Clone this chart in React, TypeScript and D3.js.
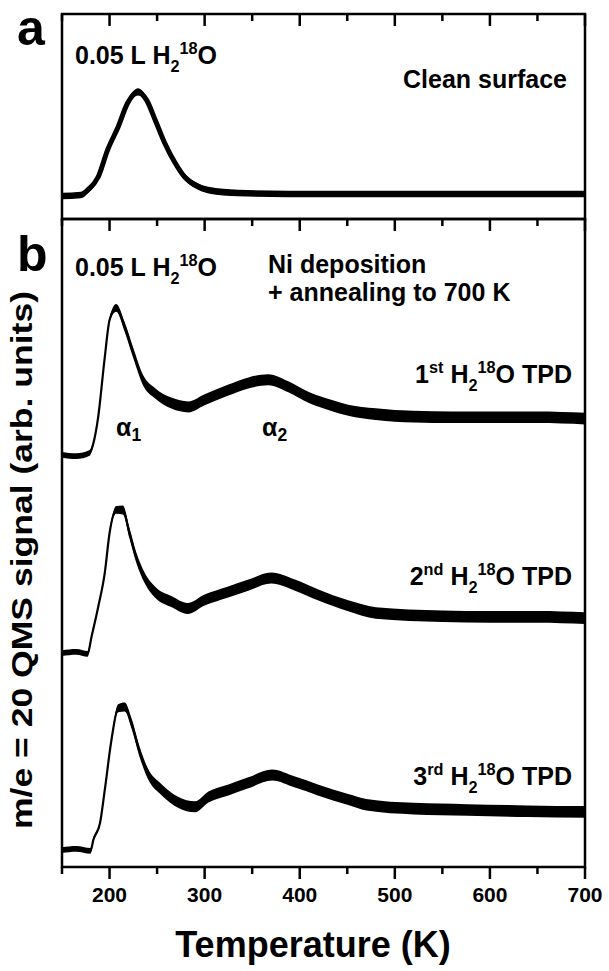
import React from "react";
import * as d3 from "d3";

// ---- Data ----
const X_DOMAIN = [150, 700];
const MAJOR_TICKS = [200, 300, 400, 500, 600, 700];
const MINOR_TICKS = [150, 250, 350, 450, 550, 650];

// Panel a: clean surface
const TEMP_A = [150, 170, 177, 188, 198, 209, 219, 230, 239, 248, 258, 269, 279, 290, 304, 335, 388, 450, 550, 650, 700];
const SIGNAL_A = [11.2, 11.7, 14.1, 20.5, 33.7, 44.9, 56.6, 62.0, 58.0, 48.3, 37.1, 27.3, 20.5, 16.6, 14.1, 12.7, 12.2, 12.2, 12.2, 12.2, 12.2];
const NOISE_A = [1.6, 1.6, 1.6, 1.6, 1.6, 1.6, 1.6, 1.8, 1.6, 1.6, 1.6, 1.6, 1.6, 1.6, 1.6, 1.6, 1.6, 1.6, 1.6, 1.6, 1.6];

// Panel b: 1st TPD
const TEMP_1 = [150, 165, 179, 183, 188, 195, 200, 207, 216, 225, 235, 248, 265, 283, 300, 325, 346, 367, 388, 409, 434, 451, 480, 520, 560, 600, 650, 700];
const SIGNAL_1 = [63.6, 63.4, 63.9, 65.4, 69.4, 78.7, 84.4, 86.3, 83.3, 79.3, 75.2, 73.1, 71.6, 71.0, 72.1, 73.6, 74.7, 75.2, 74.1, 72.5, 71.2, 70.5, 69.9, 69.5, 69.4, 69.4, 69.4, 69.2];
const NOISE_1 = [0.45, 0.45, 0.45, 0.35, 0.25, 0.25, 0.35, 0.6, 0.75, 0.8, 0.8, 0.8, 0.85, 0.85, 0.85, 0.85, 0.85, 0.85, 0.85, 0.85, 0.85, 0.85, 0.9, 0.9, 0.9, 0.9, 0.9, 0.9];

// Panel b: 2nd TPD
const TEMP_2 = [150, 165, 177, 181, 188, 195, 200, 207, 214, 221, 228, 237, 248, 266, 282, 300, 324, 346, 370, 395, 419, 451, 480, 550, 600, 650, 700];
const SIGNAL_2 = [33.0, 33.2, 32.9, 35.5, 40.1, 45.4, 51.5, 55.1, 55.1, 51.5, 47.8, 44.6, 42.4, 40.9, 39.9, 41.2, 42.4, 43.5, 44.6, 43.5, 42.0, 40.3, 39.2, 38.7, 38.6, 38.6, 38.4];
const NOISE_2 = [0.45, 0.45, 0.45, 0.35, 0.25, 0.25, 0.35, 0.6, 0.7, 0.8, 0.8, 0.8, 0.85, 0.85, 0.85, 0.85, 0.85, 0.85, 0.85, 0.85, 0.85, 0.85, 0.9, 0.9, 0.9, 0.9, 0.9];

// Panel b: 3rd TPD
const TEMP_3 = [150, 165, 180, 183, 190, 195, 202, 209, 216, 223, 232, 240, 255, 272, 290, 304, 325, 346, 371, 395, 419, 451, 470, 520, 576, 640, 700];
const SIGNAL_3 = [2.6, 2.8, 2.5, 4.2, 6.8, 11.9, 19.6, 24.5, 24.7, 22.2, 17.6, 14.5, 11.9, 10.0, 9.3, 10.8, 11.9, 13.0, 14.2, 13.1, 11.9, 10.4, 9.6, 9.0, 8.8, 8.6, 8.5];
const NOISE_3 = [0.45, 0.45, 0.45, 0.35, 0.25, 0.25, 0.35, 0.6, 0.7, 0.8, 0.8, 0.8, 0.85, 0.85, 0.85, 0.85, 0.85, 0.85, 0.85, 0.85, 0.85, 0.85, 0.9, 0.9, 0.9, 0.9, 0.9];

const Y_DOMAIN = [0, 100];

// ---- Layout ----
const W = 609;
const H = 971;
const LEFT = 62;
const RIGHT = 585;
const TOP_A = 14;
const MID = 219;
const BOTTOM = 867;
const FONT = "'Liberation Sans', Arial, Helvetica, sans-serif";

type Pt = { t: number; v: number; n: number };
const zip = (t: number[], v: number[], n: number[]): Pt[] => t.map((tt, i) => ({ t: tt, v: v[i], n: n[i] }));

function Trace({ data, x, y, sw }: { data: Pt[]; x: any; y: any; sw: number }) {
  const area = d3
    .area<Pt>()
    .x((d) => x(d.t))
    .y0((d) => y(d.v - d.n))
    .y1((d) => y(d.v + d.n))
    .curve(d3.curveMonotoneX);
  const line = d3
    .line<Pt>()
    .x((d) => x(d.t))
    .y((d) => y(d.v))
    .curve(d3.curveMonotoneX);
  return (
    <g>
      <path d={area(data) || ""} fill="#000" stroke="none" />
      <path d={line(data) || ""} fill="none" stroke="#000" strokeWidth={sw} strokeLinejoin="round" />
    </g>
  );
}

function Species({ x, y, anchor = "start", prefix, sup, size }: any) {
  const s = size * 0.65;
  return (
    <text x={x} y={y} fontFamily={FONT} fontWeight="bold" fontSize={size} textAnchor={anchor} fill="#000">
      {prefix}
      {sup ? (
        <tspan fontSize={s} dy={-size * 0.4}>
          {sup}
        </tspan>
      ) : null}
      <tspan dy={sup ? size * 0.4 : 0}>{sup ? " H" : "H"}</tspan>
      <tspan fontSize={s} dy={size * 0.3}>
        2
      </tspan>
      <tspan fontSize={s} dy={-size * 0.7}>
        18
      </tspan>
      <tspan dy={size * 0.4}>O{sup ? " TPD" : ""}</tspan>
    </text>
  );
}

export default function App() {
  const x = d3.scaleLinear().domain(X_DOMAIN).range([LEFT, RIGHT]);
  const yA = d3.scaleLinear().domain(Y_DOMAIN).range([MID, TOP_A]);
  const yB = d3.scaleLinear().domain(Y_DOMAIN).range([BOTTOM, MID]);

  const dA = zip(TEMP_A, SIGNAL_A, NOISE_A);
  const d1 = zip(TEMP_1, SIGNAL_1, NOISE_1);
  const d2 = zip(TEMP_2, SIGNAL_2, NOISE_2);
  const d3_ = zip(TEMP_3, SIGNAL_3, NOISE_3);

  const fs = 25;
  const MAJ = 12;
  const MIN = 7;

  return (
    <svg width={W} height={H} style={{ position: "absolute", left: 0, top: 0, background: "#fff" }}>
      <defs>
        <clipPath id="clipA">
          <rect x={LEFT} y={TOP_A} width={RIGHT - LEFT} height={MID - TOP_A} />
        </clipPath>
        <clipPath id="clipB">
          <rect x={LEFT} y={MID} width={RIGHT - LEFT} height={BOTTOM - MID} />
        </clipPath>
      </defs>

      {/* traces */}
      <g clipPath="url(#clipA)">
        <Trace data={dA} x={x} y={yA} sw={5} />
      </g>
      <g clipPath="url(#clipB)">
        <Trace data={d1} x={x} y={yB} sw={2.2} />
        <Trace data={d2} x={x} y={yB} sw={2.2} />
        <Trace data={d3_} x={x} y={yB} sw={2.2} />
      </g>

      {/* ticks: panel a top (inward), panel b top (inward), panel b bottom (outward) */}
      <g stroke="#000" strokeWidth={2.5}>
        {MAJOR_TICKS.concat(MINOR_TICKS).map((t) => {
          const len = MAJOR_TICKS.includes(t) ? MAJ : MIN;
          const px = x(t);
          return (
            <g key={t}>
              <line x1={px} x2={px} y1={TOP_A} y2={TOP_A + len} />
              <line x1={px} x2={px} y1={MID} y2={MID + len} />
              <line x1={px} x2={px} y1={BOTTOM} y2={BOTTOM + len} />
            </g>
          );
        })}
      </g>

      {/* frames */}
      <rect x={LEFT} y={TOP_A} width={RIGHT - LEFT} height={MID - TOP_A} fill="none" stroke="#000" strokeWidth={2.5} />
      <rect x={LEFT} y={MID} width={RIGHT - LEFT} height={BOTTOM - MID} fill="none" stroke="#000" strokeWidth={2.5} />

      {/* tick labels */}
      {MAJOR_TICKS.map((t) => (
        <text key={t} x={x(t)} y={902} textAnchor="middle" fontFamily={FONT} fontWeight="bold" fontSize={21} fill="#000">
          {t}
        </text>
      ))}

      {/* axis titles */}
      <text x={313} y={957} textAnchor="middle" fontFamily={FONT} fontWeight="bold" fontSize={36} fill="#000">
        Temperature (K)
      </text>
      <text
        transform={`translate(32, 560) rotate(-90)`}
        textAnchor="middle"
        fontFamily={FONT}
        fontWeight="bold"
        fontSize={29}
        textLength={538}
        lengthAdjust="spacingAndGlyphs"
        fill="#000"
      >
        m/e = 20 QMS signal (arb. units)
      </text>

      {/* panel letters */}
      <text x={17} y={45} fontFamily={FONT} fontWeight="bold" fontSize={50} fill="#000">a</text>
      <text x={17} y={271} fontFamily={FONT} fontWeight="bold" fontSize={50} fill="#000">b</text>

      {/* annotations */}
      <Species x={75} y={64} prefix="0.05 L " size={fs} />
      <text x={403} y={88} fontFamily={FONT} fontWeight="bold" fontSize={fs} fill="#000">Clean surface</text>
      <Species x={75} y={276} prefix="0.05 L " size={fs} />
      <text x={268} y={273} fontFamily={FONT} fontWeight="bold" fontSize={fs} fill="#000">Ni deposition</text>
      <text x={268} y={301} fontFamily={FONT} fontWeight="bold" fontSize={fs} fill="#000">+ annealing to 700 K</text>

      <Species x={572} y={383} anchor="end" prefix="1" sup="st" size={fs} />
      <Species x={572} y={585} anchor="end" prefix="2" sup="nd" size={fs} />
      <Species x={572} y={785} anchor="end" prefix="3" sup="rd" size={fs} />

      <text x={116} y={436} fontFamily={FONT} fontWeight="bold" fontSize={fs} fill="#000">
        α<tspan fontSize={fs * 0.7} dy={5}>1</tspan>
      </text>
      <text x={262} y={436} fontFamily={FONT} fontWeight="bold" fontSize={fs} fill="#000">
        α<tspan fontSize={fs * 0.7} dy={5}>2</tspan>
      </text>
    </svg>
  );
}
